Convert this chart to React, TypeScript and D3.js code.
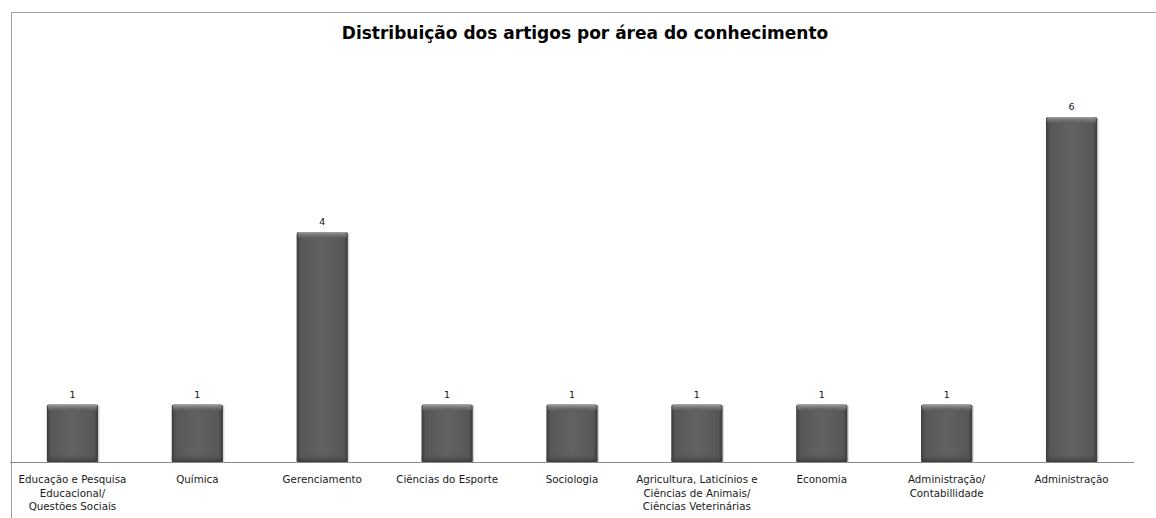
import * as d3 from "d3";
import * as React from "react";

const categories: string[][] = [
  ["Educação e Pesquisa", "Educacional/", "Questões Sociais"],
  ["Química"],
  ["Gerenciamento"],
  ["Ciências do Esporte"],
  ["Sociologia"],
  ["Agricultura, Laticínios e", "Ciências de Animais/", "Ciências Veterinárias"],
  ["Economia"],
  ["Administração/", "Contabillidade"],
  ["Administração"],
];
const values: number[] = [1, 1, 4, 1, 1, 1, 1, 1, 6];
const title = "Distribuição dos artigos por área do conhecimento";

const width = 1156;
const height = 518;

export default function App() {
  const ref = React.useRef<SVGSVGElement>(null);

  React.useEffect(() => {
    const svg = d3.select(ref.current);
    svg.selectAll("*").remove();

    const margin = { left: 10, right: 22, top: 60, axis: 462 };
    const keys = categories.map((c, i) => String(i));

    const x = d3.scaleBand()
      .domain(keys)
      .range([margin.left, width - margin.right])
      .paddingInner(0.59)
      .paddingOuter(0.295);

    const y = d3.scaleLinear()
      .domain([0, 7])
      .range([margin.axis, margin.axis - 7 * 57.5]);

    const defs = svg.append("defs");
    const grad = defs.append("linearGradient").attr("id", "barGrad")
      .attr("x1", "0%").attr("x2", "100%").attr("y1", "0%").attr("y2", "0%");
    [[0, "#3a3a3a"], [0.08, "#575757"], [0.5, "#626262"], [0.92, "#575757"], [1, "#3a3a3a"]]
      .forEach(([o, c]) => grad.append("stop").attr("offset", o as number).attr("stop-color", c as string));
    const top = defs.append("linearGradient").attr("id", "topGrad")
      .attr("x1", "0%").attr("x2", "0%").attr("y1", "0%").attr("y2", "100%");
    [[0, "#a0a0a0"], [0.4, "#7a7a7a"], [1, "#5c5c5c"]]
      .forEach(([o, c]) => top.append("stop").attr("offset", o as number).attr("stop-color", c as string));
    const bottom = defs.append("linearGradient").attr("id", "botGrad")
      .attr("x1", "0%").attr("x2", "0%").attr("y1", "0%").attr("y2", "100%");
    [[0, "#555", 0], [1, "#2e2e2e", 0.7]]
      .forEach(([o, c, a]) => bottom.append("stop").attr("offset", o as number).attr("stop-color", c as string).attr("stop-opacity", a as number));

    // chart border
    svg.append("rect")
      .attr("x", 11.5).attr("y", 12.5)
      .attr("width", width + 20).attr("height", height + 20)
      .attr("fill", "#fff").attr("stroke", "#a0a0a0");

    svg.append("text")
      .attr("x", 585).attr("y", 39)
      .attr("text-anchor", "middle")
      .attr("font-family", "DejaVu Sans, sans-serif")
      .attr("font-weight", "bold")
      .attr("font-size", 17)
      .attr("fill", "#000")
      .text(title);

    const bars = svg.append("g").selectAll("g")
      .data(values)
      .join("g");

    // soft shadow
    bars.append("rect")
      .attr("x", (d, i) => x(keys[i])! + 1.5)
      .attr("y", d => y(d) + 1)
      .attr("width", x.bandwidth())
      .attr("height", d => y(0) - y(d) - 1)
      .attr("fill", "#d8d8d8");

    bars.append("rect")
      .attr("x", (d, i) => x(keys[i])!)
      .attr("y", d => y(d))
      .attr("width", x.bandwidth())
      .attr("height", d => y(0) - y(d))
      .attr("rx", 2)
      .attr("fill", "url(#barGrad)");

    bars.append("rect")
      .attr("x", (d, i) => x(keys[i])! + 1)
      .attr("y", d => y(d))
      .attr("width", x.bandwidth() - 2)
      .attr("height", 6)
      .attr("rx", 2)
      .attr("fill", "url(#topGrad)");

    bars.append("rect")
      .attr("x", (d, i) => x(keys[i])!)
      .attr("y", d => y(0) - 8)
      .attr("width", x.bandwidth())
      .attr("height", 8)
      .attr("fill", "url(#botGrad)");

    bars.append("text")
      .attr("x", (d, i) => x(keys[i])! + x.bandwidth() / 2)
      .attr("y", d => y(d) - 7)
      .attr("text-anchor", "middle")
      .attr("font-family", "DejaVu Sans, sans-serif")
      .attr("font-size", 9.5)
      .attr("fill", "#111")
      .text(d => d);

    // x axis
    svg.append("line")
      .attr("x1", margin.left).attr("x2", width - margin.right)
      .attr("y1", y(0) + 0.5).attr("y2", y(0) + 0.5)
      .attr("stroke", "#8a8a8a");

    const labels = svg.append("g").selectAll("text")
      .data(categories)
      .join("text")
      .attr("x", (d, i) => x(keys[i])! + x.bandwidth() / 2)
      .attr("y", 483)
      .attr("text-anchor", "middle")
      .attr("font-family", "DejaVu Sans, sans-serif")
      .attr("font-size", 10.3)
      .attr("fill", "#1a1a1a");
    labels.selectAll("tspan")
      .data(d => d)
      .join("tspan")
      .attr("x", function () { return (this.parentNode as SVGTextElement).getAttribute("x"); })
      .attr("dy", (d, i) => (i === 0 ? 0 : 13.5))
      .text(d => d);
  }, []);

  return (
    <div style={{ position: "absolute", left: 0, top: 0 }}>
      <svg ref={ref} width={width} height={height} style={{ display: "block" }}></svg>
    </div>
  );
}
